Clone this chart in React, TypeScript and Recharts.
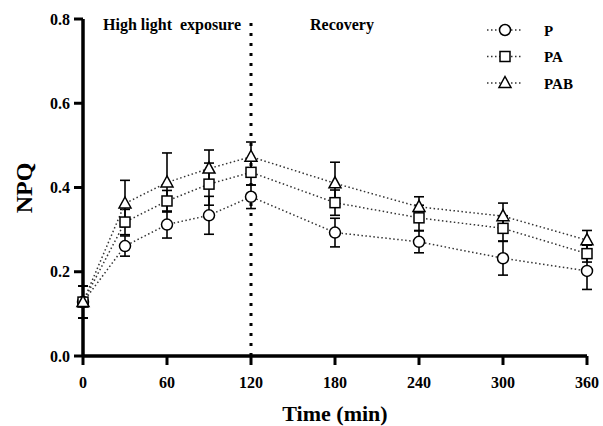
import React from 'react';
import {
  LineChart,
  Line,
  XAxis,
  YAxis,
  ErrorBar,
  ReferenceLine,
  Legend
} from 'recharts';

// sampling times (min)
const times = [0, 30, 60, 90, 120, 180, 240, 300, 360];

// NPQ means and SD per treatment
const pValues = [0.128, 0.261, 0.312, 0.334, 0.378, 0.293, 0.271, 0.232, 0.202];
const pErrors = [0.038, 0.024, 0.032, 0.045, 0.028, 0.034, 0.026, 0.04, 0.044];
const paValues = [0.128, 0.318, 0.368, 0.408, 0.436, 0.364, 0.328, 0.303, 0.243];
const paErrors = [0.038, 0.03, 0.025, 0.05, 0.03, 0.03, 0.03, 0.03, 0.02];
const pabValues = [0.128, 0.362, 0.412, 0.445, 0.473, 0.41, 0.354, 0.332, 0.275];
const pabErrors = [0.038, 0.055, 0.07, 0.044, 0.035, 0.05, 0.024, 0.031, 0.023];

const xTicks = [0, 60, 120, 180, 240, 300, 360];
const yTicks = [0, 0.2, 0.4, 0.6, 0.8];

const seriesNames = ['P', 'PA', 'PAB'];
const seriesShapes = ['circle', 'square', 'triangle'];

const data = times.map((t, i) => ({
  time: t,
  p: pValues[i],
  pErr: pErrors[i],
  pa: paValues[i],
  paErr: paErrors[i],
  pab: pabValues[i],
  pabErr: pabErrors[i]
}));

const FONT = "'Liberation Serif', 'Times New Roman', serif";
const LINE_COLOR = '#333';

function Marker({ shape, cx, cy }: { shape: string; cx: number; cy: number }) {
  const common = { fill: '#fff', stroke: '#000', strokeWidth: 1.5 };
  if (shape === 'circle') return <circle cx={cx} cy={cy} r={5.5} {...common} />;
  if (shape === 'square') return <rect x={cx - 5} y={cy - 5} width={10} height={10} {...common} />;
  return (
    <polygon
      points={`${cx},${cy - 6.5} ${cx + 6},${cy + 4.5} ${cx - 6},${cy + 4.5}`}
      {...common}
    />
  );
}

function makeDot(shape: string) {
  return (props: any) => {
    const { cx, cy, index } = props;
    if (cx == null || cy == null) return <g key={`${shape}-${index}`} />;
    return (
      <g key={`${shape}-${index}`}>
        <Marker shape={shape} cx={cx} cy={cy} />
      </g>
    );
  };
}

const boldText = { fontFamily: FONT, fontWeight: 'bold' as const, fill: '#000' };

function LegendBox() {
  return (
    <svg width={120} height={80} style={{ display: 'block' }}>
      {seriesNames.map((name, i) => {
        const y = 12 + i * 26.5;
        return (
          <g key={name}>
            <line
              x1={7}
              x2={43}
              y1={y}
              y2={y}
              stroke={LINE_COLOR}
              strokeWidth={1.5}
              strokeDasharray="1.5 2.5"
            />
            <Marker shape={seriesShapes[i]} cx={25} cy={y} />
            <text x={64} y={y + 5.5} style={{ ...boldText, fontSize: 15 }}>
              {name}
            </text>
          </g>
        );
      })}
    </svg>
  );
}

function PhaseLabels(props: any) {
  const { viewBox } = props;
  const x = viewBox.x;
  const style = { ...boldText, fontSize: 16 };
  return (
    <g>
      <text x={x - 10} y={30} textAnchor="end" style={{ ...style, whiteSpace: 'pre' }}>
        {'High light\u00a0\u00a0exposure'}
      </text>
      <text x={x + 59} y={30} textAnchor="start" style={style}>
        Recovery
      </text>
    </g>
  );
}

export default function App() {
  const tickStyle = { fill: '#000', fontSize: 16, fontWeight: 'bold', style: { fontFamily: FONT } };
  return (
    <div style={{ position: 'absolute', left: 0, top: 0, background: '#fff', fontFamily: FONT }}>
      <LineChart
        width={603}
        height={426}
        data={data}
        margin={{ top: 19, right: 16, left: 0, bottom: 0 }}
        style={{ fontFamily: FONT }}
      >
        <XAxis
          dataKey="time"
          type="number"
          domain={[0, 360]}
          ticks={xTicks}
          height={70}
          tickSize={9}
          tickMargin={12}
          tick={tickStyle}
          axisLine={{ stroke: '#000', strokeWidth: 3.5 }}
          tickLine={{ stroke: '#000', strokeWidth: 3 }}
          label={{
            value: 'Time (min)',
            position: 'insideBottom',
            offset: 5,
            style: { ...boldText, fontSize: 22 }
          }}
        />
        <YAxis
          type="number"
          domain={[0, 0.8]}
          ticks={yTicks}
          width={83}
          tickSize={9}
          tickMargin={4}
          tick={tickStyle}
          tickFormatter={(v: number) => v.toFixed(1)}
          axisLine={{ stroke: '#000', strokeWidth: 3.5 }}
          tickLine={{ stroke: '#000', strokeWidth: 3 }}
          label={{
            content: () => (
              <text
                x={24}
                y={188}
                transform="rotate(-90 24 188)"
                textAnchor="middle"
                dominantBaseline="central"
                style={{ ...boldText, fontSize: 24 }}
              >
                NPQ
              </text>
            )
          }}
        />
        <ReferenceLine
          x={120}
          stroke="#000"
          strokeWidth={3}
          strokeDasharray="3 7"
          label={<PhaseLabels />}
        />
        <Legend
          layout="vertical"
          align="center"
          verticalAlign="middle"
          wrapperStyle={{ position: 'absolute', top: 18, left: 480, width: 120, height: 80 }}
          content={() => <LegendBox />}
        />
        <Line
          dataKey="p"
          name="P"
          stroke={LINE_COLOR}
          strokeWidth={1.5}
          strokeDasharray="1.5 2.5"
          dot={makeDot('circle')}
          activeDot={false}
          isAnimationActive={false}
        >
          <ErrorBar dataKey="pErr" width={5} stroke="#000" strokeWidth={1.6} direction="y" />
        </Line>
        <Line
          dataKey="pa"
          name="PA"
          stroke={LINE_COLOR}
          strokeWidth={1.5}
          strokeDasharray="1.5 2.5"
          dot={makeDot('square')}
          activeDot={false}
          isAnimationActive={false}
        >
          <ErrorBar dataKey="paErr" width={5} stroke="#000" strokeWidth={1.6} direction="y" />
        </Line>
        <Line
          dataKey="pab"
          name="PAB"
          stroke={LINE_COLOR}
          strokeWidth={1.5}
          strokeDasharray="1.5 2.5"
          dot={makeDot('triangle')}
          activeDot={false}
          isAnimationActive={false}
        >
          <ErrorBar dataKey="pabErr" width={5} stroke="#000" strokeWidth={1.6} direction="y" />
        </Line>
      </LineChart>
    </div>
  );
}
